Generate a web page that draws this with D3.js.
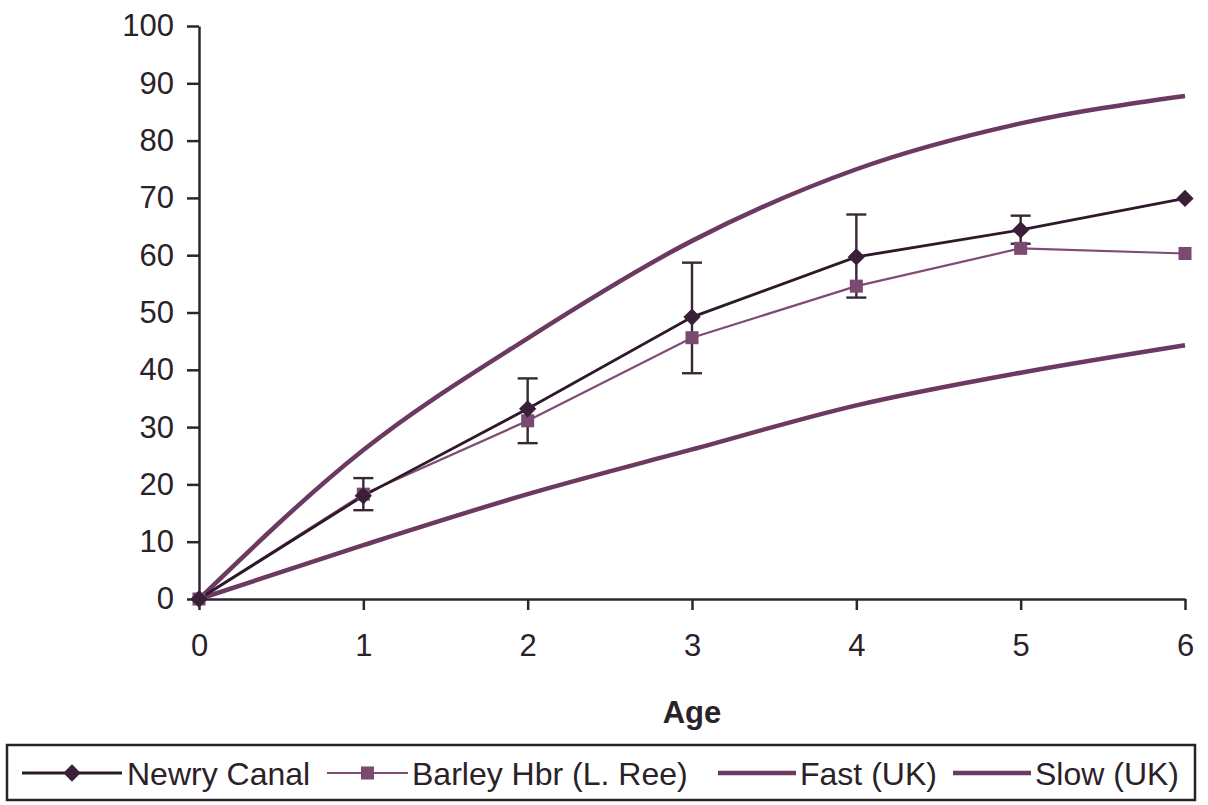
<!DOCTYPE html>
<html>
<head>
<meta charset="utf-8">
<script src="https://cdn.jsdelivr.net/npm/d3@7"></script>
<style>
  body { margin: 0; background: #fff; }
  svg { display: block; }
  text { font-family: "Liberation Sans", Arial, sans-serif; fill: #2a2228; }
</style>
</head>
<body>
<div id="chart"></div>
<script>
// values
const ages = [0, 1, 2, 3, 4, 5, 6];
const newryCanal = [0, 18, 33.2, 49.2, 59.7, 64.4, 69.9];
const barleyHbr = [0, 18.3, 31.1, 45.6, 54.6, 61.2, 60.3];
const fastUK = [0, 26, 45.5, 62.5, 75, 83, 87.8];
const slowUK = [0, 9.4, 18.3, 26.1, 33.8, 39.5, 44.3];
// error bars (low / high) at ages 1..5
const errAges = [1, 2, 3, 4, 5];
const errLow = [15.5, 27.2, 39.4, 52.6, 62];
const errHigh = [21.1, 38.5, 58.7, 67.1, 66.9];
const yTicks = [0, 10, 20, 30, 40, 50, 60, 70, 80, 90, 100];
const legendLabels = ["Newry Canal", "Barley Hbr (L. Ree)", "Fast (UK)", "Slow (UK)"];

let width = 1208, height = 805;

let svg = d3.select("#chart").append("svg")
    .attr("width", width)
    .attr("height", height);

let x = d3.scaleLinear().domain([0, 6]).range([199, 1185]);
let y = d3.scaleLinear().domain([0, 100]).range([599, 26]);

let axisColor = "#2e2430";

// axes
let gx = svg.append("g")
    .attr("transform", "translate(0," + y(0) + ")")
    .call(d3.axisBottom(x).tickValues(ages).tickFormat(d3.format("d"))
        .tickSize(11).tickSizeOuter(0).tickPadding(20));
let gy = svg.append("g")
    .attr("transform", "translate(" + x(0) + ",0)")
    .call(d3.axisLeft(y).tickValues(yTicks).tickFormat(d3.format("d"))
        .tickSize(12).tickSizeOuter(0).tickPadding(13));

[gx, gy].forEach(g => {
    g.select(".domain").attr("stroke", axisColor).attr("stroke-width", 2.5);
    g.selectAll(".tick line").attr("stroke", axisColor).attr("stroke-width", 2.5);
    g.selectAll(".tick text")
        .attr("font-size", 31)
        .attr("font-family", "Liberation Sans, Arial, sans-serif")
        .attr("fill", "#2a2228");
});
gx.selectAll(".tick text").attr("dy", "0.85em");

svg.append("text")
    .attr("x", x(3))
    .attr("y", 723)
    .attr("text-anchor", "middle")
    .attr("font-size", 31)
    .attr("font-weight", "bold")
    .text("Age");

let line = d3.line()
    .x((d, i) => x(ages[i]))
    .y(d => y(d));

let smooth = d3.line()
    .x((d, i) => x(ages[i]))
    .y(d => y(d))
    .curve(d3.curveMonotoneX);

//fast and slow reference curves
svg.append("path").attr("d", smooth(fastUK))
    .attr("fill", "none").attr("stroke", "#6c3a61").attr("stroke-width", 4.5);
svg.append("path").attr("d", smooth(slowUK))
    .attr("fill", "none").attr("stroke", "#6c3a61").attr("stroke-width", 4.5);

// error bars
let eb = svg.append("g").attr("stroke", "#382835").attr("stroke-width", 2.4);
errAges.forEach((a, i) => {
    eb.append("line").attr("x1", x(a)).attr("x2", x(a)).attr("y1", y(errLow[i])).attr("y2", y(errHigh[i]));
    eb.append("line").attr("x1", x(a) - 10).attr("x2", x(a) + 10).attr("y1", y(errLow[i])).attr("y2", y(errLow[i]));
    eb.append("line").attr("x1", x(a) - 10).attr("x2", x(a) + 10).attr("y1", y(errHigh[i])).attr("y2", y(errHigh[i]));
});

// barley harbour
svg.append("path").attr("d", line(barleyHbr))
    .attr("fill", "none").attr("stroke", "#7e4c74").attr("stroke-width", 2.2);
// newry canal
svg.append("path").attr("d", line(newryCanal))
    .attr("fill", "none").attr("stroke", "#2c1a2b").attr("stroke-width", 2.8);

let diamond = d3.symbol().type(d3.symbolDiamond2).size(190);
let square = d3.symbol().type(d3.symbolSquare).size(170);

svg.selectAll(".sq").data(barleyHbr).enter().append("path")
    .attr("class", "sq")
    .attr("d", square)
    .attr("transform", (d, i) => "translate(" + x(ages[i]) + "," + y(d) + ")")
    .attr("fill", "#7a4a70");

svg.selectAll(".dm").data(newryCanal).enter().append("path")
    .attr("class", "dm")
    .attr("d", diamond)
    .attr("transform", (d, i) => "translate(" + x(ages[i]) + "," + y(d) + ")")
    .attr("fill", "#3a1f38");

// legend
let lg = svg.append("g");
lg.append("rect")
    .attr("x", 7).attr("y", 745).attr("width", 1188).attr("height", 55)
    .attr("fill", "#fff").attr("stroke", "#2a2228").attr("stroke-width", 2.5);

let legendItems = [
    {x0: 22, x1: 122, tx: 127, color: "#2c1a2b", w: 2.8, sym: diamond, symColor: "#3a1f38"},
    {x0: 327, x1: 408, tx: 412, color: "#7e4c74", w: 2.2, sym: square, symColor: "#7a4a70"},
    {x0: 718, x1: 796, tx: 800, color: "#6c3a61", w: 4.5, sym: null},
    {x0: 953, x1: 1031, tx: 1035, color: "#6c3a61", w: 4.5, sym: null}
];
let ly = 773;
legendItems.forEach((it, i) => {
    lg.append("line").attr("x1", it.x0).attr("x2", it.x1).attr("y1", ly).attr("y2", ly)
        .attr("stroke", it.color).attr("stroke-width", it.w);
    if (it.sym) {
        lg.append("path").attr("d", it.sym)
            .attr("transform", "translate(" + ((it.x0 + it.x1) / 2) + "," + ly + ")")
            .attr("fill", it.symColor);
    }
    lg.append("text")
        .attr("x", it.tx).attr("y", ly + 12)
        .attr("font-size", 32)
        .text(legendLabels[i]);
});
</script>
</body>
</html>
